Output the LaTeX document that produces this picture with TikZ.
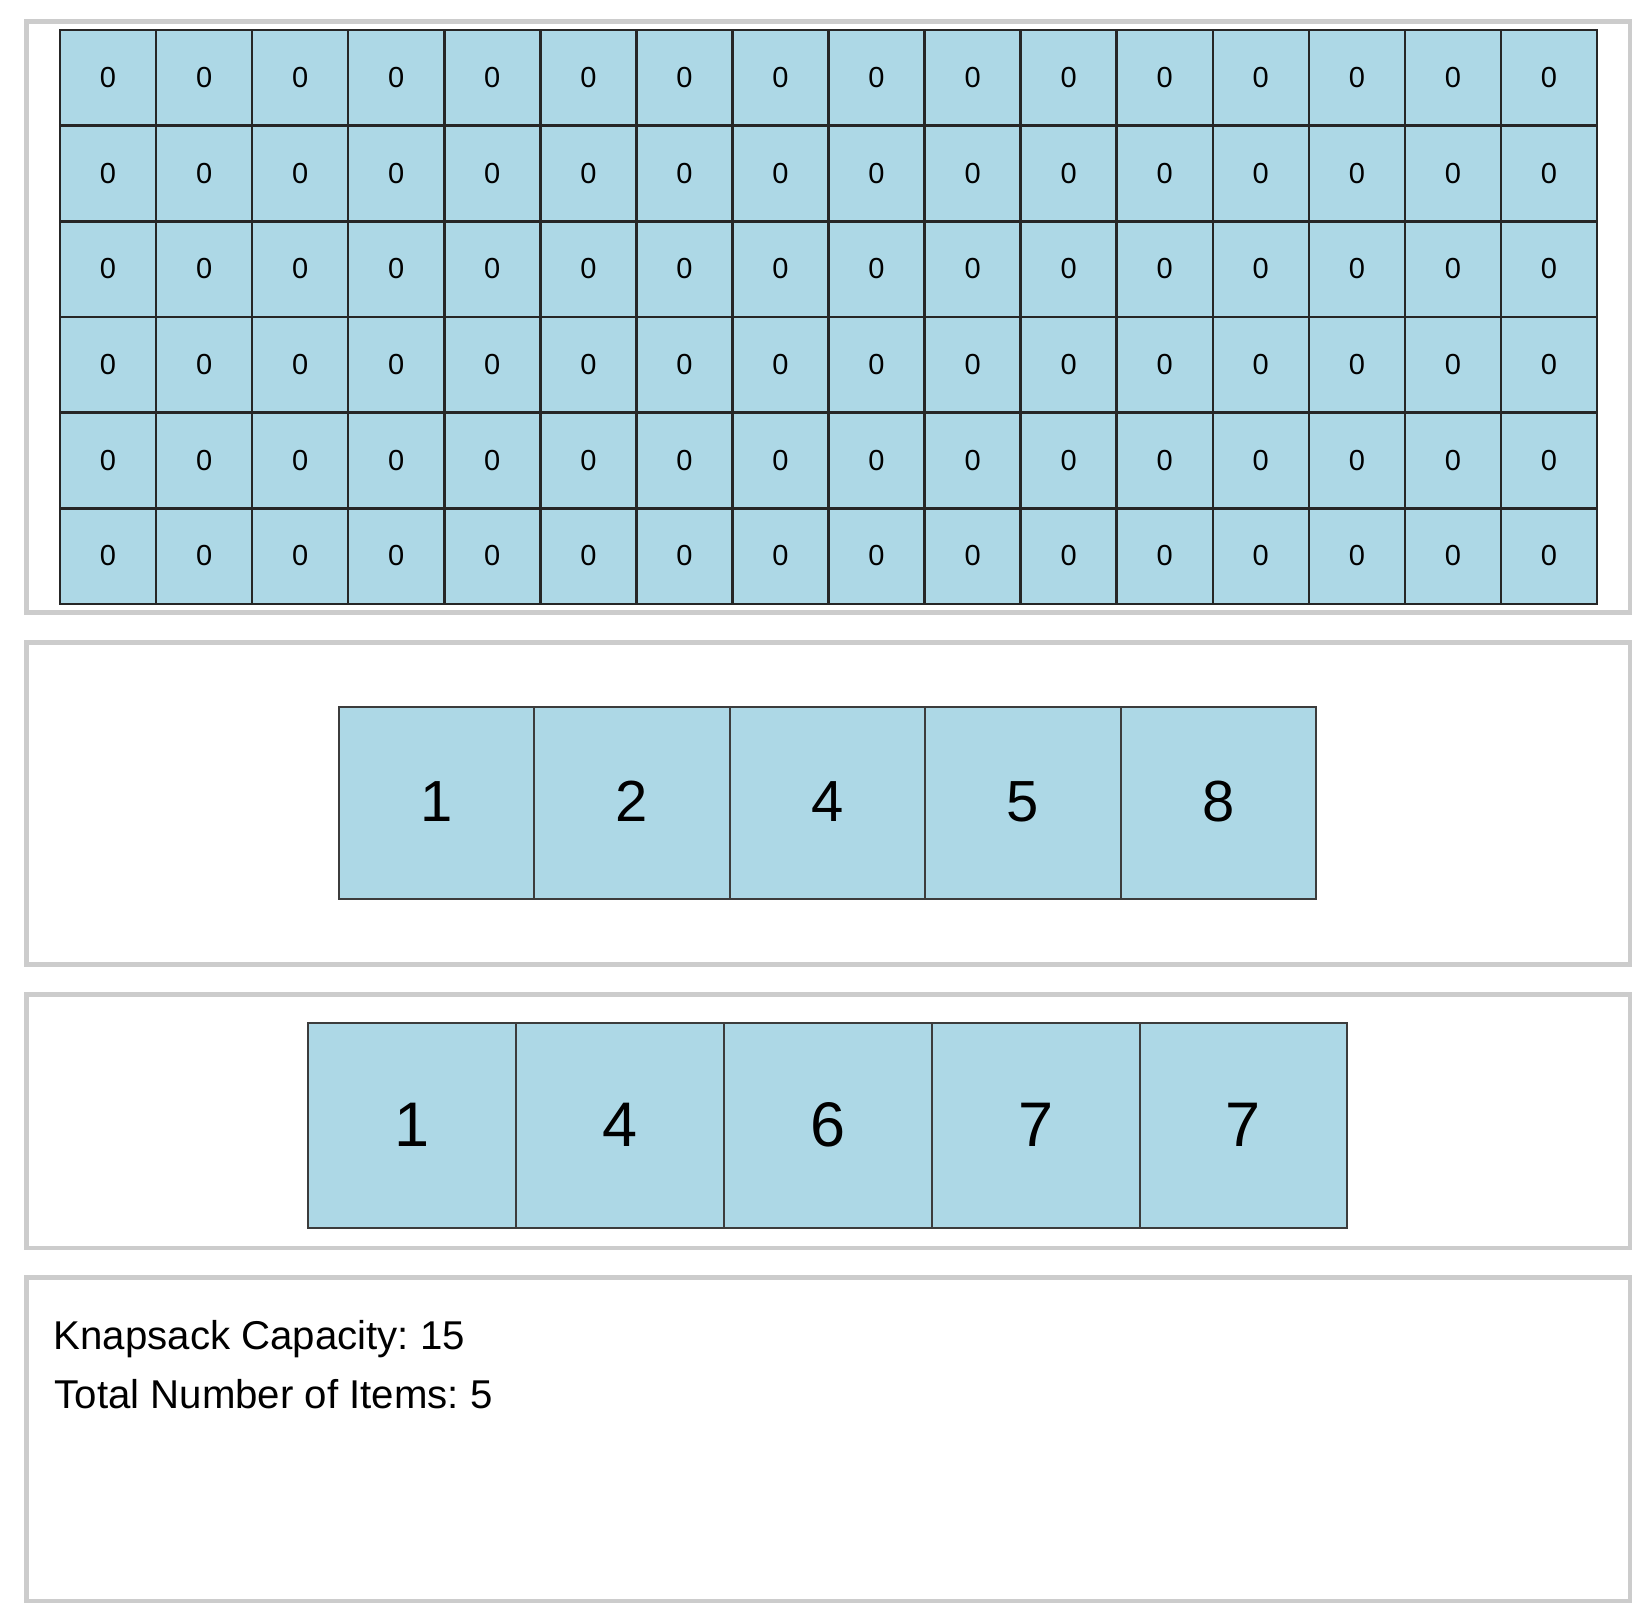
\documentclass[tikz,border=0pt]{standalone}
\usepackage{fontspec}
\setmainfont{Liberation Sans}
\frenchspacing
\definecolor{cellblue}{HTML}{ADD8E6}
\definecolor{panelgray}{HTML}{CCCCCC}
\definecolor{celledge}{HTML}{262626}
\begin{document}
\begin{tikzpicture}[x=1pt,y=-1pt,
  panel/.style={draw=panelgray,line width=4.5pt,fill=white},
  gridcell/.style={draw=celledge,line width=2.5pt,fill=cellblue,inner sep=0pt,
    minimum width=96.0625pt,minimum height=95.667pt,font=\fontsize{29}{31}\selectfont},
  wcell/.style={draw=celledge!90,line width=2pt,fill=cellblue,inner sep=0pt,
    minimum width=195.4pt,minimum height=192.3pt,font=\fontsize{58}{60}\selectfont},
  vcell/.style={draw=celledge!90,line width=2pt,fill=cellblue,inner sep=0pt,
    minimum width=207.8pt,minimum height=205.6pt,font=\fontsize{63}{65}\selectfont},
  infotext/.style={inner sep=0pt,anchor=base west,font=\fontsize{40.2}{45}\selectfont}]
\useasboundingbox (0,0) rectangle (1645,1610);
\fill[white] (0,0) rectangle (1645,1610);
% panels
\draw[panel] (26.25,21.25) rectangle (1629.75,612.5);
\draw[panel] (26.25,642.25) rectangle (1629.75,964.5);
\draw[panel] (26.25,994.25) rectangle (1629.75,1247.75);
\draw[panel] (26.25,1277.25) rectangle (1629.75,1600.75);
% DP table
\foreach \r in {0,...,5}
  \foreach \c in {0,...,15}
    \node[gridcell] (g-\r-\c) at ({60+96.0625*(\c+0.5)},{30+95.667*(\r+0.5)}) {\raisebox{1pt}{0}};
% weights
\foreach \v [count=\i from 0] in {1,2,4,5,8}
  \node[wcell] (w-\i) at ({339+195.4*(\i+0.5)},802.85) {\raisebox{3.5pt}{\v}};
% values
\foreach \v [count=\i from 0] in {1,4,6,7,7}
  \node[vcell] (v-\i) at ({308.3+207.8*(\i+0.5)},1125.5) {\raisebox{1.3pt}{\v}};
% info
\node[infotext] (cap) at (53.5,1349) {Knapsack Capacity: 15};
\node[infotext] (num) at (54.5,1408) {Total Number of Items: 5};
\end{tikzpicture}
\end{document}
